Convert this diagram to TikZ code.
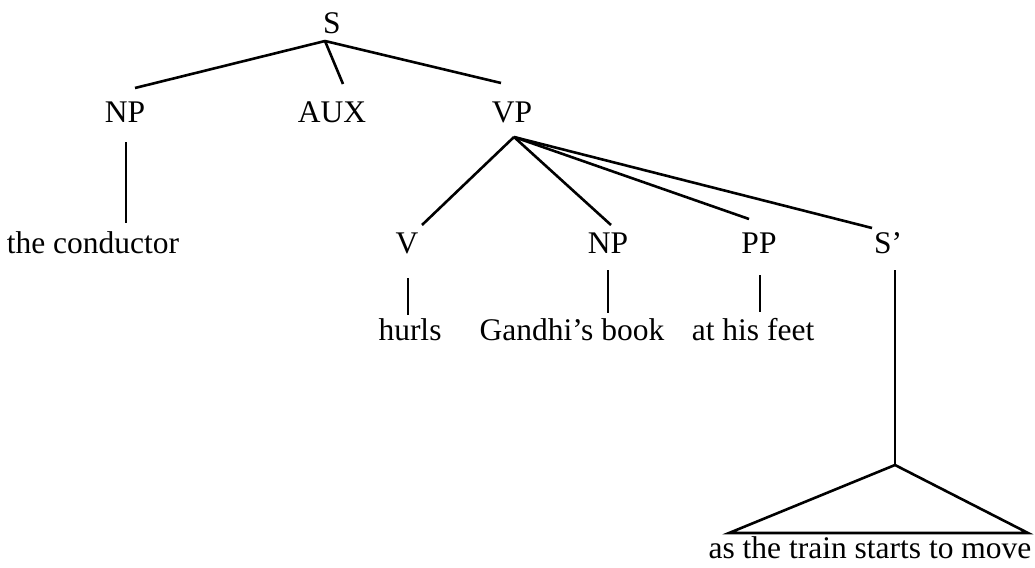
\documentclass[tikz,border=0pt]{standalone}
\usepackage{fontspec}
\setmainfont{Liberation Serif}
\begin{document}
\begin{tikzpicture}[x=1pt,y=-1pt,
  lbl/.style={anchor=base,inner sep=0pt,font=\fontsize{31.5}{36}\selectfont},
  edge/.style={line width=2.6pt,line cap=butt}]
\useasboundingbox (0,0) rectangle (1035,567);
% labels
\node[lbl] (S) at (332,34) {S};
\node[lbl] (NP) at (125,122) {NP};
\node[lbl] (AUX) at (332,122) {AUX};
\node[lbl] (VP) at (512,122) {VP};
\node[lbl] (cond) at (93,253) {the conductor};
\node[lbl] (V) at (407,253) {V};
\node[lbl] (NP2) at (608,253) {NP};
\node[lbl] (PP) at (759,253) {PP};
\node[lbl] (Sp) at (888,253) {S’};
\node[lbl] (hurls) at (410,340) {hurls};
\node[lbl] (gb) at (572,340) {Gandhi’s book};
\node[lbl] (ahf) at (753,340) {at his feet};
\node[lbl] (move) at (870,558) {as the train starts to move};
% connector endpoints
\coordinate (S-b) at (325,41);
\coordinate (NP-t) at (135,88);
\coordinate (AUX-t) at (343,84);
\coordinate (VP-t) at (501,83);
\coordinate (NP-b) at (126,142);
\coordinate (cond-t) at (126,223);
\coordinate (VP-b) at (514,137);
\coordinate (V-t) at (422,225);
\coordinate (NP2-t) at (611,225);
\coordinate (PP-t) at (749,219);
\coordinate (Sp-t) at (872,228);
\coordinate (V-b) at (408,278);
\coordinate (hurls-t) at (408,315);
\coordinate (NP2-b) at (608,270);
\coordinate (gb-t) at (608,313);
\coordinate (PP-b) at (760,275);
\coordinate (ahf-t) at (760,312);
\coordinate (Sp-b) at (895,270);
\coordinate (apex) at (895,465);
\coordinate (tl) at (729,533);
\coordinate (tr) at (1028,533);
% edges
\draw[edge] (S-b) -- (NP-t);
\draw[edge] (S-b) -- (AUX-t);
\draw[edge] (S-b) -- (VP-t);
\draw[edge] (NP-b) -- (cond-t);
\draw[edge] (VP-b) -- (V-t);
\draw[edge] (VP-b) -- (NP2-t);
\draw[edge] (VP-b) -- (PP-t);
\draw[edge] (VP-b) -- (Sp-t);
\draw[edge] (V-b) -- (hurls-t);
\draw[edge] (NP2-b) -- (gb-t);
\draw[edge] (PP-b) -- (ahf-t);
\draw[edge] (Sp-b) -- (apex);
\draw[edge,line join=miter] (apex) -- (tl) -- (tr) -- cycle;
\end{tikzpicture}
\end{document}
